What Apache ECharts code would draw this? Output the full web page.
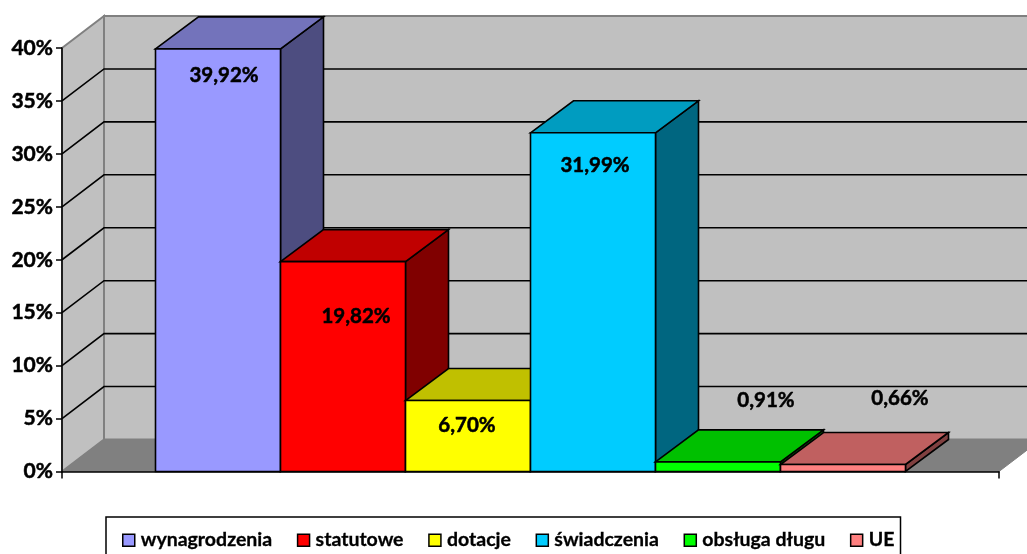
<!DOCTYPE html>
<html>
<head>
<meta charset="utf-8">
<style>html,body{margin:0;padding:0;background:#fff;overflow:hidden}#c{width:1027px;height:554px}</style>
<script src="https://cdn.jsdelivr.net/npm/echarts@6/dist/echarts.min.js"></script>
</head>
<body>
<div id="c"></div>
<script>
var categories = [''];
var seriesNames = ['wynagrodzenia', 'statutowe', 'dotacje', 'świadczenia', 'obsługa długu', 'UE'];
var seriesValues = [39.92, 19.82, 6.70, 31.99, 0.91, 0.66];
var valueLabels = ['39,92%', '19,82%', '6,70%', '31,99%', '0,91%', '0,66%'];
var yTicks = [0, 5, 10, 15, 20, 25, 30, 35, 40];

var frontColors = ['#9999ff', '#ff0000', '#ffff00', '#00ccff', '#00ff00', '#ff8080'];
var topColors = ['#7373bb', '#c00000', '#c0c000', '#009cc0', '#00c000', '#c06060'];
var sideColors = ['#4d4d80', '#800000', '#808000', '#006680', '#008000', '#804040'];
var labelShift = [[6, 27], [13, 55], [-1, 25], [2, 33], [48, -61], [57, -66]];
var FONT = 'Lato, Carlito, "Open Sans", sans-serif';
var DX = 43, DY = 32, BAR_SHARE = 125 / 937;
var WALL_DX = 42, WALL_DY = 32;

function poly(points, fill, stroke, lw) {
  return { type: 'polygon', shape: { points: points },
    style: { fill: fill, stroke: stroke, lineWidth: lw, lineJoin: 'miter' } };
}

function renderWall(params, api) {
  var y = api.coord([0, api.value(1)])[1];
  var cs = params.coordSys;
  var x0 = cs.x, x1 = cs.x + cs.width;
  var children = [];
  if (params.dataIndex === 0) {
    var top = cs.y - WALL_DY, base = cs.y + cs.height;
    children.push(poly([[x0 + WALL_DX, top], [x1 + WALL_DX, top], [x1 + WALL_DX, base - WALL_DY], [x0 + WALL_DX, base - WALL_DY]], '#c0c0c0', '#808080', 2));
    children.push(poly([[x0, cs.y], [x0 + WALL_DX, top], [x0 + WALL_DX, base - WALL_DY], [x0, base]], '#c0c0c0', '#808080', 2));
    children.push(poly([[x0, base], [x0 + WALL_DX, base - WALL_DY], [x1 + WALL_DX, base - WALL_DY], [x1, base]], '#808080', '#808080', 1));
  }
  if (api.value(1) > 0 && api.value(1) < 40) {
    children.push({ type: 'polyline', shape: { points: [[x0, y], [x0 + WALL_DX, y - WALL_DY], [x1 + WALL_DX, y - WALL_DY]] },
      style: { fill: null, stroke: '#000', lineWidth: 1.6 } });
  }
  return { type: 'group', children: children };
}

function makeBarRenderer(i) {
  return function (params, api) {
    var p = api.coord([0, api.value(1)]);
    var p0 = api.coord([0, 0]);
    var band = api.size([1, 0])[0];
    var w = band * BAR_SHARE;
    var l = p[0] - 3 * w + i * w, r = l + w, t = p[1], b = p0[1];
    var lw = 1.6;
    return { type: 'group', children: [
      poly([[r, t], [r + DX, t - DY], [r + DX, b - DY], [r, b]], sideColors[i], '#000', lw),
      poly([[l, t], [l + DX, t - DY], [r + DX, t - DY], [r, t]], topColors[i], '#000', lw),
      poly([[l, t], [r, t], [r, b], [l, b]], frontColors[i], '#000', lw),
      { type: 'text', z2: 50, style: { x: (l + r) / 2 + labelShift[i][0], y: t + labelShift[i][1],
        text: valueLabels[i], fill: '#000', align: 'center', verticalAlign: 'middle',
        stroke: '#000', lineWidth: 0.5,
        font: 'bold 20.5px ' + FONT } }
    ] };
  };
}

var series = [{
  type: 'custom', name: 'wall', silent: true, z: 1, renderItem: renderWall, clip: false,
  encode: { x: 0, y: 1 }, data: yTicks.map(function (t) { return [0, t]; })
}];
seriesNames.forEach(function (n, i) {
  series.push({
    type: 'custom', name: n, z: 2 + i, clip: false, renderItem: makeBarRenderer(i),
    encode: { x: 0, y: 1 }, itemStyle: { color: frontColors[i] },
    data: [[0, seriesValues[i]]]
  });
});

var chart = echarts.init(document.getElementById('c'), null, { renderer: 'canvas' });
chart.setOption({
  animation: false,
  backgroundColor: '#fff',
  color: frontColors,
  grid: { left: 62, top: 48, width: 937, height: 423.5, containLabel: false },
  xAxis: { type: 'category', data: categories, z: 20,
    axisLine: { lineStyle: { color: '#000', width: 1.5 } },
    axisTick: { show: true, alignWithLabel: false, length: 7, lineStyle: { color: '#000', width: 1.5 } },
    axisLabel: { show: false }, splitLine: { show: false } },
  yAxis: { type: 'value', min: 0, max: 40, interval: 5, z: 20,
    axisLine: { show: true, lineStyle: { color: '#000', width: 1.5 } },
    axisTick: { show: true, length: 6, lineStyle: { color: '#000', width: 1.5 } },
    splitLine: { show: false },
    axisLabel: { formatter: '{value}%', color: '#000', margin: 9, fontFamily: FONT, fontWeight: 'bold', fontSize: 21,
      textBorderColor: '#000', textBorderWidth: 0.5 } },
  legend: {
    data: seriesNames, left: 106, top: 517, orient: 'horizontal',
    backgroundColor: '#fff', borderColor: '#000', borderWidth: 1.5, borderRadius: 0,
    padding: [13, 6, 7, 16], itemGap: 24.5, itemWidth: 12, itemHeight: 12, selectedMode: false,
    icon: 'rect', itemStyle: { borderColor: '#000', borderWidth: 1.5 },
    textStyle: { color: '#000', fontFamily: FONT, fontWeight: 'bold', fontSize: 19.5, padding: [0, 0, 0, 1],
      textBorderColor: '#000', textBorderWidth: 0.3 }
  },
  series: series
});
</script>
</body>
</html>
